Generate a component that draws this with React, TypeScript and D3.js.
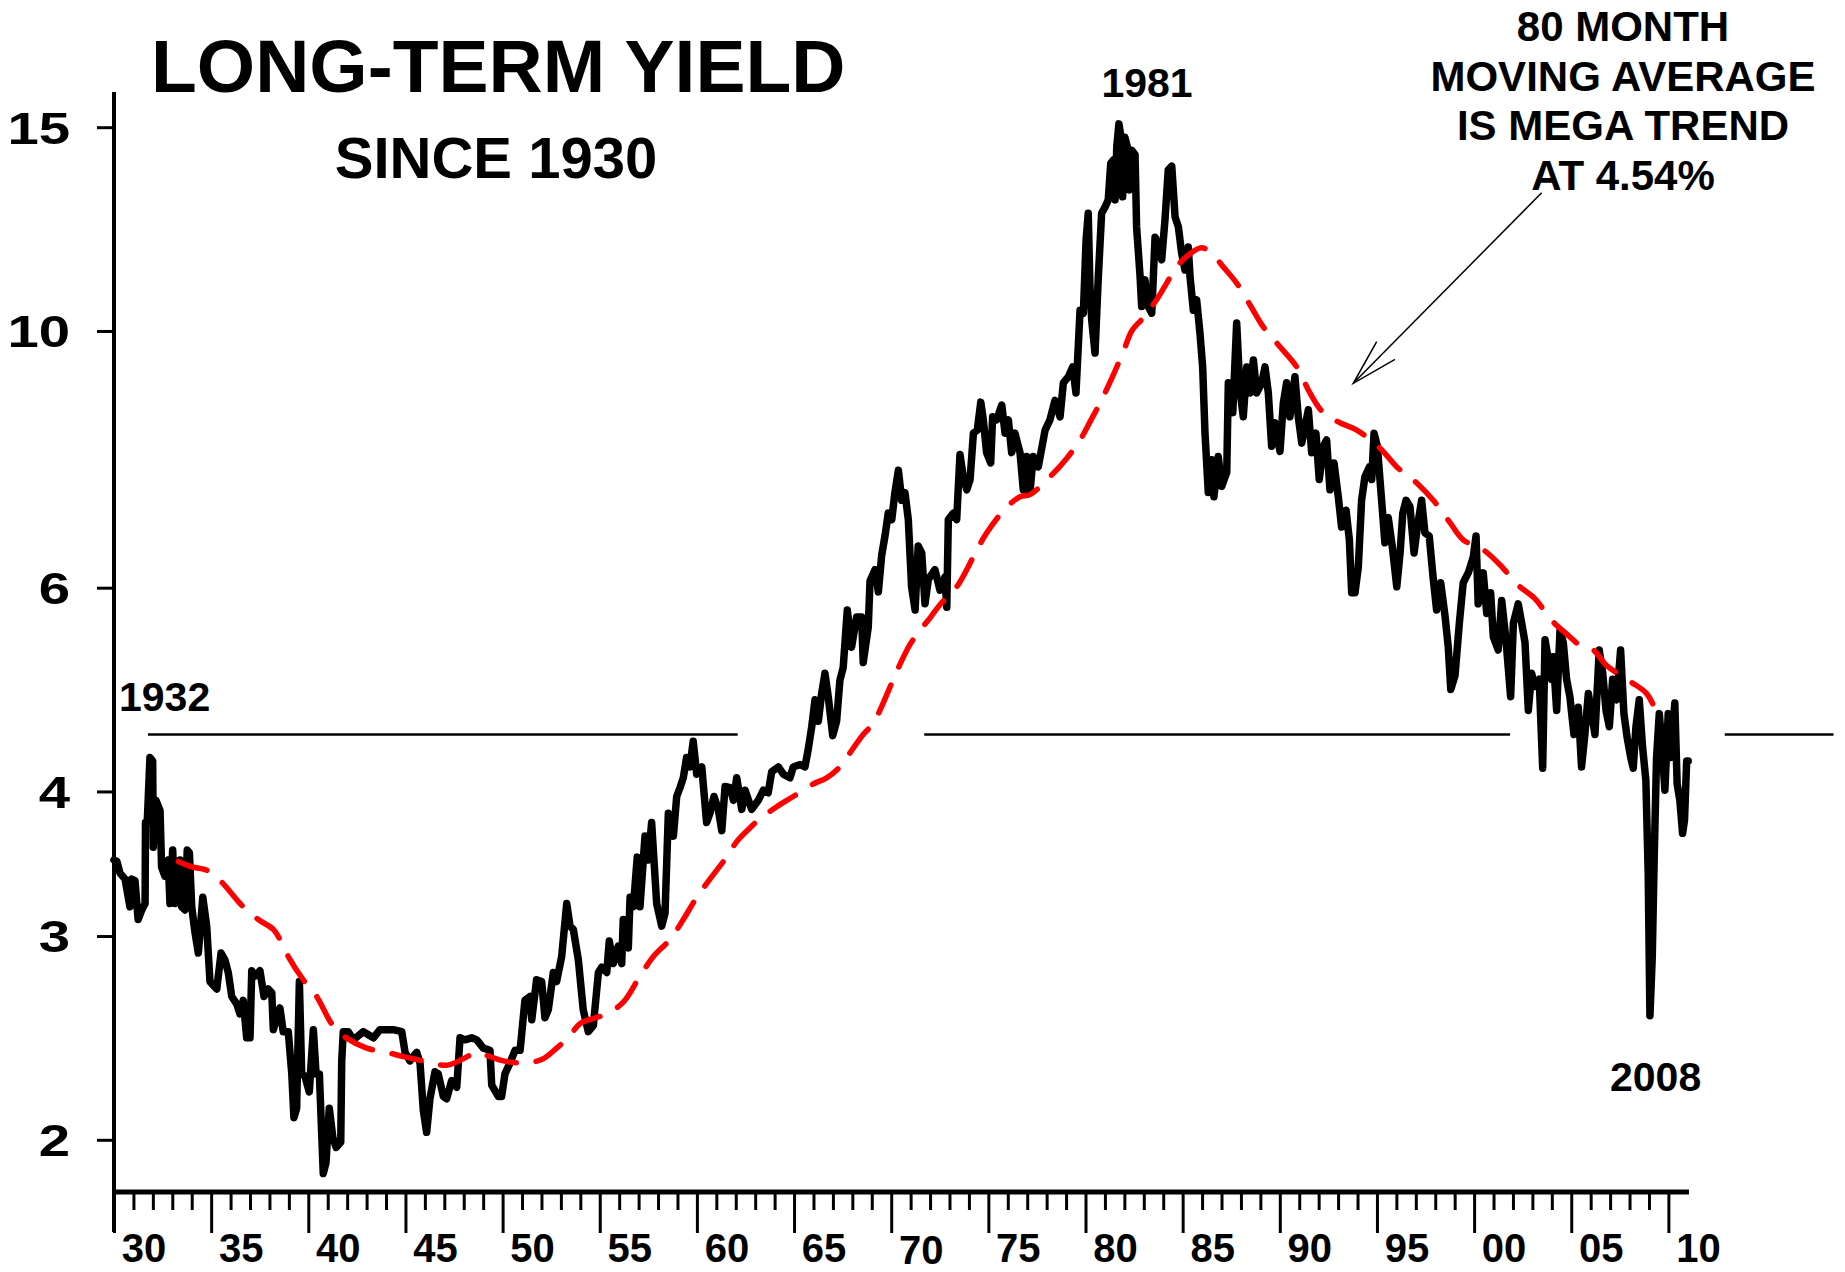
import React, { useEffect, useRef } from 'react';
import * as d3 from 'd3';

const W = 1845;
const H = 1272;

// long-term yield readings, [year, percent]
const yields1930s: [number, number][] = [
  [1930.0, 3.49], [1930.15, 3.48], [1930.31, 3.4], [1930.57, 3.36], [1930.82, 3.18], [1930.91, 3.36],
  [1931.08, 3.35], [1931.24, 3.1], [1931.43, 3.16], [1931.6, 3.2], [1931.62, 3.76], [1931.71, 3.76],
  [1931.85, 4.28], [1931.99, 4.25], [1932.02, 3.58], [1932.16, 3.93], [1932.37, 3.85], [1932.45, 3.44],
  [1932.62, 3.38], [1932.79, 3.49], [1932.88, 3.2], [1933.02, 3.56], [1933.14, 3.2], [1933.31, 3.23],
  [1933.4, 3.49], [1933.48, 3.18], [1933.65, 3.16], [1933.77, 3.56], [1933.88, 3.54], [1934.0, 3.18],
  [1934.17, 3.02], [1934.34, 2.9], [1934.57, 3.24], [1934.77, 3.06], [1934.94, 2.74], [1935.29, 2.7],
  [1935.51, 2.9], [1935.71, 2.86], [1935.88, 2.79], [1936.06, 2.66], [1936.32, 2.62], [1936.48, 2.57],
  [1936.65, 2.64], [1936.83, 2.45], [1937.0, 2.45], [1937.09, 2.8], [1937.26, 2.77], [1937.51, 2.8],
  [1937.72, 2.66], [1937.94, 2.7], [1938.12, 2.68], [1938.2, 2.49], [1938.37, 2.55], [1938.54, 2.6],
  [1938.71, 2.48], [1938.97, 2.48], [1939.15, 2.28], [1939.26, 2.09], [1939.4, 2.13], [1939.54, 2.74],
  [1939.66, 2.28], [1939.83, 2.27],
];

const yields1940s: [number, number][] = [
  [1940.05, 2.2], [1940.26, 2.49], [1940.4, 2.28], [1940.57, 2.28], [1940.77, 1.87], [1940.91, 1.91],
  [1941.08, 2.13], [1941.26, 2.01], [1941.43, 1.97], [1941.67, 1.99], [1941.72, 2.34], [1941.8, 2.48],
  [1942.06, 2.48], [1942.32, 2.44], [1942.83, 2.48], [1943.35, 2.45], [1943.69, 2.49], [1944.37, 2.49],
  [1944.81, 2.48], [1944.98, 2.38], [1945.23, 2.34], [1945.58, 2.38], [1945.75, 2.33], [1945.92, 2.12],
  [1946.09, 2.03], [1946.26, 2.17], [1946.52, 2.29], [1946.69, 2.28], [1946.95, 2.18], [1947.12, 2.17],
  [1947.38, 2.25], [1947.64, 2.22], [1947.81, 2.45], [1948.06, 2.44], [1948.41, 2.45], [1948.67, 2.44],
  [1949.01, 2.4], [1949.35, 2.39], [1949.44, 2.23], [1949.78, 2.18], [1949.95, 2.18],
];

const yields1950s: [number, number][] = [
  [1950.12, 2.28], [1950.38, 2.33], [1950.64, 2.39], [1950.9, 2.39], [1951.15, 2.64], [1951.41, 2.66],
  [1951.5, 2.54], [1951.75, 2.75], [1952.01, 2.74], [1952.18, 2.55], [1952.35, 2.59], [1952.61, 2.79],
  [1952.78, 2.74], [1953.04, 2.88], [1953.3, 3.2], [1953.47, 3.06], [1953.64, 3.04], [1953.9, 2.86],
  [1954.15, 2.59], [1954.41, 2.48], [1954.67, 2.51], [1954.93, 2.79], [1955.1, 2.82], [1955.36, 2.79],
  [1955.49, 2.97], [1955.7, 2.84], [1955.95, 2.94], [1956.13, 2.84], [1956.21, 3.1], [1956.47, 2.93],
  [1956.56, 3.24], [1956.73, 3.18], [1956.93, 3.51], [1957.07, 3.18], [1957.33, 3.66], [1957.5, 3.49],
  [1957.67, 3.76], [1957.93, 3.2], [1958.19, 3.06], [1958.36, 3.14], [1958.53, 3.83], [1958.79, 3.66],
  [1958.96, 3.96], [1959.13, 4.03], [1959.3, 4.11], [1959.47, 4.28], [1959.64, 4.2], [1959.81, 4.42],
  [1959.99, 4.14],
];

const yields1960s: [number, number][] = [
  [1960.25, 4.2], [1960.5, 3.76], [1960.67, 3.83], [1960.88, 3.96], [1961.1, 3.86], [1961.28, 3.7],
  [1961.45, 4.04], [1961.71, 4.03], [1961.88, 3.93], [1962.05, 4.11], [1962.31, 3.86], [1962.48, 4.01],
  [1962.82, 3.86], [1963.16, 3.93], [1963.42, 4.01], [1963.67, 3.99], [1963.85, 4.16], [1964.19, 4.2],
  [1964.45, 4.14], [1964.79, 4.11], [1964.96, 4.2], [1965.31, 4.22], [1965.56, 4.2], [1965.73, 4.35],
  [1965.91, 4.55], [1966.08, 4.8], [1966.25, 4.6], [1966.42, 4.86], [1966.59, 5.06], [1966.76, 4.83],
  [1966.99, 4.47], [1967.19, 4.6], [1967.36, 4.99], [1967.53, 5.12], [1967.74, 5.74], [1967.96, 5.33],
  [1968.22, 5.66], [1968.48, 5.66], [1968.56, 5.17], [1968.82, 5.55], [1968.91, 6.08], [1969.17, 6.22],
  [1969.34, 5.95], [1969.51, 6.4], [1969.68, 6.65], [1969.85, 6.96],
];

const yields1970s: [number, number][] = [
  [1970.03, 6.87], [1970.19, 7.25], [1970.37, 7.58], [1970.54, 7.14], [1970.71, 7.25], [1970.88, 6.87],
  [1971.05, 6.01], [1971.23, 5.74], [1971.39, 6.52], [1971.57, 6.43], [1971.74, 5.81], [1971.91, 6.1],
  [1972.25, 6.22], [1972.51, 5.97], [1972.77, 6.13], [1972.86, 5.77], [1972.94, 6.87], [1973.2, 6.96],
  [1973.37, 6.87], [1973.54, 7.82], [1973.71, 7.48], [1973.89, 7.29], [1974.06, 7.44], [1974.23, 8.16],
  [1974.43, 8.21], [1974.61, 8.68], [1974.74, 8.38], [1974.91, 7.85], [1975.12, 7.69], [1975.22, 8.43],
  [1975.43, 8.38], [1975.69, 8.63], [1975.86, 8.16], [1976.03, 8.38], [1976.2, 7.85], [1976.37, 8.16],
  [1976.54, 7.95], [1976.63, 7.85], [1976.8, 7.29], [1976.97, 7.79], [1977.14, 7.25], [1977.31, 7.79],
  [1977.57, 7.63], [1977.92, 8.21], [1978.17, 8.38], [1978.43, 8.71], [1978.69, 8.43], [1978.86, 9.02],
  [1979.12, 9.13], [1979.34, 9.31], [1979.51, 8.84], [1979.72, 10.42], [1979.89, 10.36],
];

const yields1980s: [number, number][] = [
  [1980.03, 11.98], [1980.14, 12.64], [1980.23, 10.92], [1980.32, 10.22], [1980.49, 9.57], [1980.66, 11.14],
  [1980.83, 12.64], [1981.01, 12.8], [1981.17, 12.98], [1981.3, 13.96], [1981.43, 14.05], [1981.52, 12.98],
  [1981.61, 14.43], [1981.72, 15.1], [1981.83, 14.7], [1981.91, 13.06], [1982.03, 14.7], [1982.15, 14.43],
  [1982.25, 13.24], [1982.38, 14.33], [1982.55, 14.2], [1982.63, 12.3], [1982.81, 11.14], [1982.89, 10.5],
  [1983.06, 11.07], [1983.23, 10.5], [1983.41, 10.36], [1983.58, 12.05], [1983.75, 11.9], [1983.92, 11.52],
  [1984.09, 12.47], [1984.26, 13.78], [1984.44, 13.88], [1984.61, 12.55], [1984.78, 12.3], [1984.95, 11.67],
  [1985.12, 11.29], [1985.29, 11.82], [1985.38, 11.14], [1985.55, 10.42], [1985.72, 10.64], [1985.89, 9.96],
  [1986.03, 9.31], [1986.15, 8.16], [1986.32, 7.25], [1986.49, 7.74], [1986.61, 7.19], [1986.83, 7.79],
  [1987.01, 7.34], [1987.27, 7.55], [1987.35, 9.02], [1987.58, 8.5], [1987.78, 10.16], [1987.95, 8.89],
  [1988.12, 8.43], [1988.3, 9.31], [1988.47, 8.84], [1988.64, 9.44], [1988.81, 8.84], [1989.07, 9.02],
  [1989.24, 9.31], [1989.41, 8.84], [1989.58, 7.95], [1989.75, 8.33],
];

const yields1990s: [number, number][] = [
  [1990.01, 7.87], [1990.18, 8.66], [1990.35, 9.02], [1990.52, 8.43], [1990.78, 9.13], [1990.95, 8.43],
  [1991.13, 8.0], [1991.3, 8.27], [1991.47, 8.55], [1991.64, 7.85], [1991.86, 8.16], [1992.03, 7.44],
  [1992.24, 7.95], [1992.41, 8.05], [1992.58, 7.29], [1992.79, 7.69], [1993.01, 7.19], [1993.18, 6.77],
  [1993.41, 7.0], [1993.58, 6.6], [1993.7, 5.94], [1993.87, 5.94], [1994.04, 6.25], [1994.21, 7.14],
  [1994.38, 7.48], [1994.61, 7.63], [1994.73, 7.44], [1994.85, 8.16], [1995.02, 7.95], [1995.24, 7.14],
  [1995.41, 6.56], [1995.58, 6.9], [1995.79, 6.51], [1996.02, 6.01], [1996.19, 6.43], [1996.33, 6.96],
  [1996.5, 7.14], [1996.7, 7.05], [1996.91, 6.43], [1997.08, 6.77], [1997.3, 7.14], [1997.47, 6.69],
  [1997.69, 6.65], [1997.9, 6.1], [1998.07, 5.74], [1998.28, 6.06], [1998.5, 5.68], [1998.67, 5.33],
  [1998.8, 4.9], [1999.02, 5.04], [1999.24, 5.59], [1999.44, 6.06], [1999.7, 6.18], [1999.96, 6.38],
];

const yields2000s: [number, number][] = [
  [2000.1, 6.65], [2000.21, 5.81], [2000.47, 6.18], [2000.65, 5.7], [2000.85, 5.94], [2000.99, 5.44],
  [2001.24, 5.3], [2001.42, 5.85], [2001.64, 5.41], [2001.88, 4.83], [2002.02, 5.59], [2002.27, 5.81],
  [2002.45, 5.59], [2002.62, 5.38], [2002.79, 4.7], [2002.96, 5.06], [2003.13, 4.93], [2003.35, 5.0],
  [2003.53, 4.19], [2003.65, 5.41], [2003.82, 5.2], [2003.99, 5.0], [2004.07, 5.23], [2004.25, 4.7],
  [2004.42, 5.51], [2004.59, 5.38], [2004.76, 5.0], [2004.93, 4.83], [2005.14, 4.48], [2005.36, 4.73],
  [2005.53, 4.2], [2005.7, 4.48], [2005.88, 4.86], [2006.05, 4.67], [2006.22, 4.48], [2006.44, 5.3],
  [2006.62, 5.06], [2006.79, 4.7], [2006.96, 4.55], [2007.13, 5.0], [2007.34, 4.8], [2007.54, 5.3],
  [2007.71, 4.67], [2007.88, 4.45], [2008.06, 4.28], [2008.19, 4.19], [2008.33, 4.55], [2008.5, 4.8],
  [2008.67, 4.37], [2008.84, 4.09], [2008.96, 3.4], [2009.05, 2.56], [2009.17, 2.88], [2009.27, 3.51],
  [2009.39, 4.28], [2009.53, 4.67], [2009.65, 4.42], [2009.82, 4.01], [2009.99, 4.67],
];

const yields2010s: [number, number][] = [
  [2010.11, 4.28], [2010.33, 4.77], [2010.45, 4.06], [2010.59, 3.93], [2010.73, 3.68], [2010.83, 3.78],
  [2010.94, 4.25], [2011.02, 4.25],
];

// 80 month moving average
const movingAvg: [number, number][] = [
  [1933.31, 3.48], [1934.08, 3.44], [1934.77, 3.42], [1935.46, 3.35], [1936.65, 3.18], [1937.43, 3.1],
  [1938.2, 3.04], [1938.54, 2.98], [1938.97, 2.88], [1939.74, 2.75], [1940.43, 2.66], [1941.2, 2.52],
  [1941.8, 2.46], [1943.01, 2.4], [1944.04, 2.38], [1944.89, 2.36], [1945.92, 2.34], [1947.12, 2.32],
  [1947.98, 2.35], [1948.67, 2.38], [1949.35, 2.36], [1950.04, 2.34], [1951.24, 2.33], [1952.09, 2.35],
  [1952.78, 2.4], [1953.47, 2.46], [1953.98, 2.52], [1955.36, 2.57], [1956.21, 2.63], [1957.07, 2.77],
  [1957.76, 2.88], [1958.62, 2.98], [1959.3, 3.1], [1959.99, 3.24], [1960.67, 3.36], [1961.53, 3.51],
  [1962.05, 3.62], [1962.73, 3.72], [1963.25, 3.79], [1964.11, 3.88], [1964.96, 3.96], [1965.99, 4.06],
  [1966.68, 4.11], [1967.36, 4.2], [1967.88, 4.32], [1968.56, 4.48], [1969.08, 4.58], [1969.42, 4.7],
  [1970.11, 5.0], [1970.45, 5.15], [1970.97, 5.36], [1971.48, 5.51], [1972.0, 5.65], [1972.51, 5.8],
  [1973.37, 6.01], [1974.23, 6.38], [1974.91, 6.69], [1975.94, 7.04], [1976.63, 7.19], [1977.14, 7.22],
  [1978.17, 7.48], [1979.03, 7.76], [1979.72, 8.05], [1980.32, 8.4], [1980.83, 8.72], [1981.35, 9.1],
  [1981.95, 9.6], [1982.38, 10.0], [1982.98, 10.27], [1983.66, 10.64], [1984.18, 11.0], [1984.69, 11.36],
  [1985.29, 11.63], [1985.98, 11.8], [1986.49, 11.67], [1987.09, 11.36], [1987.78, 11.0], [1988.47, 10.53],
  [1989.15, 10.08], [1990.01, 9.69], [1990.87, 9.31], [1991.55, 8.84], [1992.24, 8.5], [1993.1, 8.33],
  [1993.96, 8.21], [1995.16, 7.92], [1996.02, 7.63], [1997.05, 7.39], [1997.9, 7.14], [1998.76, 6.83],
  [1999.44, 6.6], [2000.47, 6.47], [2001.33, 6.28], [2002.26, 6.03], [2003.13, 5.87], [2004.0, 5.62],
  [2004.77, 5.47], [2005.65, 5.32], [2006.13, 5.3], [2006.82, 5.14], [2008.02, 4.98], [2008.88, 4.86],
  [2009.39, 4.68],
];

const yTicks = [2, 3, 4, 6, 10, 15];
const majorYears = [1930, 1935, 1940, 1945, 1950, 1955, 1960, 1965, 1970, 1975, 1980, 1985, 1990, 1995, 2000, 2005, 2010];
const xTickLabels = ['30', '35', '40', '45', '50', '55', '60', '65', '70', '75', '80', '85', '90', '95', '00', '05', '10'];

const trendLevel = 4.48;
const trendSegments: [number, number][] = [[1931.75, 1962.1], [1971.7, 2001.85], [2012.9, 2018.5]];
const noteLines = ['80 MONTH', 'MOVING AVERAGE', 'IS MEGA TREND', 'AT 4.54%'];

const FONT = "'Liberation Sans', Arial, sans-serif";

export default function App() {
  const ref = useRef<SVGSVGElement>(null);

  useEffect(() => {
    const svg = d3.select(ref.current);
    svg.selectAll('*').remove();

    const x = d3.scaleLinear().domain([1930, 2010]).range([114, 1668.4]);
    const y = d3.scaleLog().domain([2, 15]).range([1139.8, 127.2]);

    const series = [
      ...yields1930s, ...yields1940s, ...yields1950s, ...yields1960s,
      ...yields1970s, ...yields1980s, ...yields1990s, ...yields2000s, ...yields2010s,
    ];

    // y axis
    const sx = 1.28;
    const gy = svg.append('g')
      .attr('transform', 'translate(114,0)')
      .call(d3.axisLeft(y).tickValues(yTicks).tickFormat(d3.format('d')).tickSize(17).tickPadding(27));
    gy.select('.domain').remove();
    gy.selectAll('.tick line').attr('stroke', '#000').attr('stroke-width', 3);
    gy.selectAll('.tick text')
      .attr('fill', '#000')
      .attr('font-family', FONT)
      .attr('font-weight', 'bold')
      .attr('font-size', 44)
      .attr('x', -44 / sx)
      .attr('dy', '0.36em')
      .attr('transform', `scale(${sx},1)`);

    svg.append('line')
      .attr('x1', 114).attr('x2', 114).attr('y1', 92).attr('y2', 1232)
      .attr('stroke', '#000').attr('stroke-width', 4);

    // x axis, one tick per year, long ones every 5
    const gx = svg.append('g')
      .attr('transform', 'translate(0,1192)')
      .call(d3.axisBottom(x).tickValues(d3.range(1930, 2011)).tickFormat(() => '').tickSize(18));
    gx.select('.domain').remove();
    gx.selectAll('.tick line')
      .attr('stroke', '#000')
      .attr('stroke-width', 3)
      .attr('y2', (d: any) => (d % 5 === 0 ? 41 : 18));

    svg.append('line')
      .attr('x1', 112).attr('x2', 1689).attr('y1', 1192).attr('y2', 1192)
      .attr('stroke', '#000').attr('stroke-width', 5);

    svg.append('g').selectAll('text')
      .data(majorYears)
      .join('text')
      .attr('x', d => x(d) + 30)
      .attr('y', d => (d === 1970 ? 1264 : 1262))
      .attr('text-anchor', 'middle')
      .attr('font-family', FONT)
      .attr('font-weight', 'bold')
      .attr('font-size', 40)
      .text((d, i) => xTickLabels[i]);

    // trend level lines
    svg.append('g').selectAll('line')
      .data(trendSegments)
      .join('line')
      .attr('x1', d => x(d[0])).attr('x2', d => x(d[1]))
      .attr('y1', y(trendLevel)).attr('y2', y(trendLevel))
      .attr('stroke', '#000').attr('stroke-width', 2.5);

    // yield series
    const line = d3.line<[number, number]>().x(d => x(d[0])).y(d => y(d[1]));
    svg.append('path')
      .datum(series)
      .attr('d', line)
      .attr('fill', 'none')
      .attr('stroke', '#000')
      .attr('stroke-width', 7.5)
      .attr('stroke-linejoin', 'round')
      .attr('stroke-linecap', 'round');

    const maLine = d3.line<[number, number]>().x(d => x(d[0])).y(d => y(d[1])).curve(d3.curveCatmullRom);
    svg.append('path')
      .datum(movingAvg)
      .attr('d', maLine)
      .attr('fill', 'none')
      .attr('stroke', '#ff0000')
      .attr('stroke-width', 5.5)
      .attr('stroke-dasharray', '30 20')
      .attr('stroke-linecap', 'round');

    // titles and labels
    const txt = (s: string, tx: number, ty: number, size: number, anchor = 'start') =>
      svg.append('text')
        .attr('x', tx).attr('y', ty)
        .attr('text-anchor', anchor)
        .attr('font-family', FONT)
        .attr('font-weight', 'bold')
        .attr('font-size', size)
        .attr('fill', '#000')
        .text(s);

    txt('LONG-TERM YIELD', 151, 92, 75);
    txt('SINCE 1930', 496, 178, 58, 'middle');
    txt('1981', 1147, 97, 41, 'middle');
    txt('1932', 119, 711, 41);
    txt('2008', 1610, 1091, 41);

    noteLines.forEach((s, i) => txt(s, 1623, 41 + i * 49.5, 42, 'middle'));

    // arrow to the moving average
    const arrow = svg.append('g').attr('stroke', '#000').attr('stroke-width', 1.5).attr('fill', 'none');
    arrow.append('line').attr('x1', 1541.7).attr('y1', 192.7).attr('x2', 1353.3).attr('y2', 383.3);
    arrow.append('polyline').attr('points', '1376.7,341.7 1353.3,383.3 1395,359.3');
  }, []);

  return (
    <svg
      ref={ref}
      width={W}
      height={H}
      style={{ position: 'absolute', left: 0, top: 0, background: '#fff' }}
    />
  );
}
